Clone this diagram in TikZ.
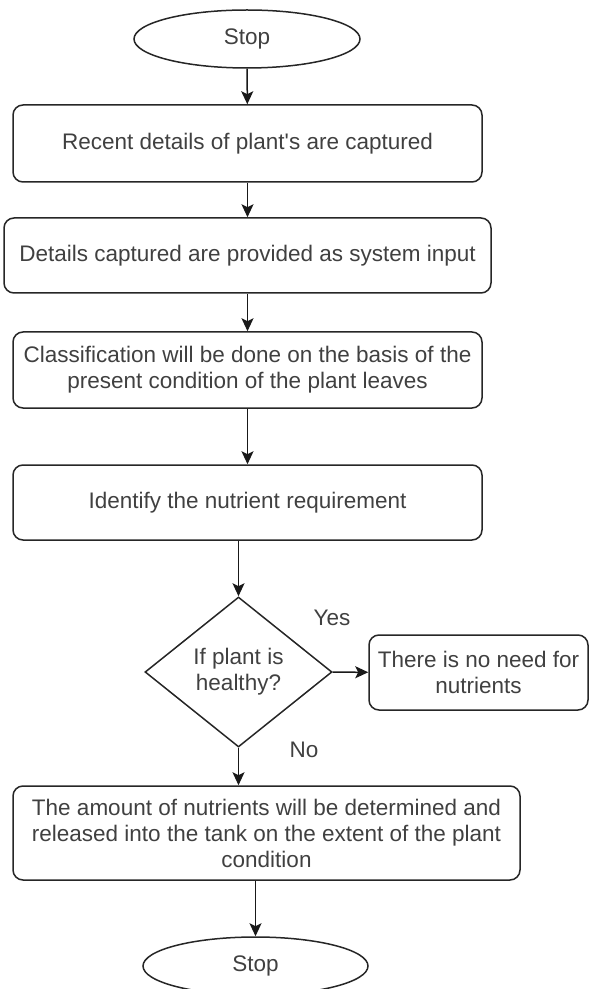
\documentclass[tikz,border=0pt]{standalone}
\usepackage{fontspec}
\setmainfont{Liberation Sans}
\usetikzlibrary{arrows.meta,shapes.geometric}

\tikzset{
  flowbox/.style={draw=black!85,line width=0.75pt,rounded corners=5pt,align=center,
    inner sep=2pt,minimum width=234.5pt,minimum height=38pt,text=black!75},
  term/.style={draw=black!85,line width=0.75pt,ellipse,minimum width=113pt,
    minimum height=29pt,inner sep=0pt,text=black!75},
  decide/.style={draw=black!85,line width=0.75pt,diamond,minimum width=93.5pt,
    minimum height=75pt,inner sep=0pt,align=center,text=black!75},
  flow/.style={draw=black!90,line width=0.75pt,-{Stealth[length=6.5pt,width=6pt,inset=1.5pt]}},
  lbl/.style={text=black!75}
}

\begin{document}
\begin{tikzpicture}[x=0.5pt,y=-0.5pt,font=\fontsize{11.25}{13}\selectfont]
  \useasboundingbox (0,0) rectangle (589,989);
  % main column
  \node[term] (start) at (247,39) {Stop};
  \node[flowbox,minimum height=38.5pt] (capture) at (247.5,143.5) {Recent details of plant\textquotesingle s are captured};
  \node[flowbox,minimum width=243.5pt,minimum height=37.5pt] (input) at (247.5,255.5) {Details captured are provided as system input};
  \node[flowbox] (classify) at (247.5,370) {Classification will be done on the basis of the\\present condition of the plant leaves};
  \node[flowbox,minimum height=37.5pt] (identify) at (247.5,502.5) {Identify the nutrient requirement};
  \node[decide] (healthy) at (238.5,672) {If plant is\\healthy?};
  \node[flowbox,minimum width=109.5pt,minimum height=37.5pt] (noneed) at (478.5,672.5) {There is no need for\\nutrients};
  \node[flowbox,minimum width=253.5pt,minimum height=47pt] (release) at (266.5,833) {The amount of nutrients will be determined and\\released into the tank on the extent of the plant\\condition};
  \node[term,minimum width=112.5pt] (stop) at (255.5,966) {Stop};
  % branch labels
  \node[lbl] (yes) at (332,618) {Yes};
  \node[lbl] (no) at (304,750) {No};
  % connectors
  \draw[flow] (start) -- (capture);
  \draw[flow] (capture) -- (input);
  \draw[flow] (input) -- (classify);
  \draw[flow] (classify) -- (identify);
  \draw[flow] (identify.south -| healthy) -- (healthy);
  \draw[flow] (healthy) -- (noneed);
  \draw[flow] (healthy) -- (release.north -| healthy);
  \draw[flow] (release.south -| stop) -- (stop);
\end{tikzpicture}
\end{document}
